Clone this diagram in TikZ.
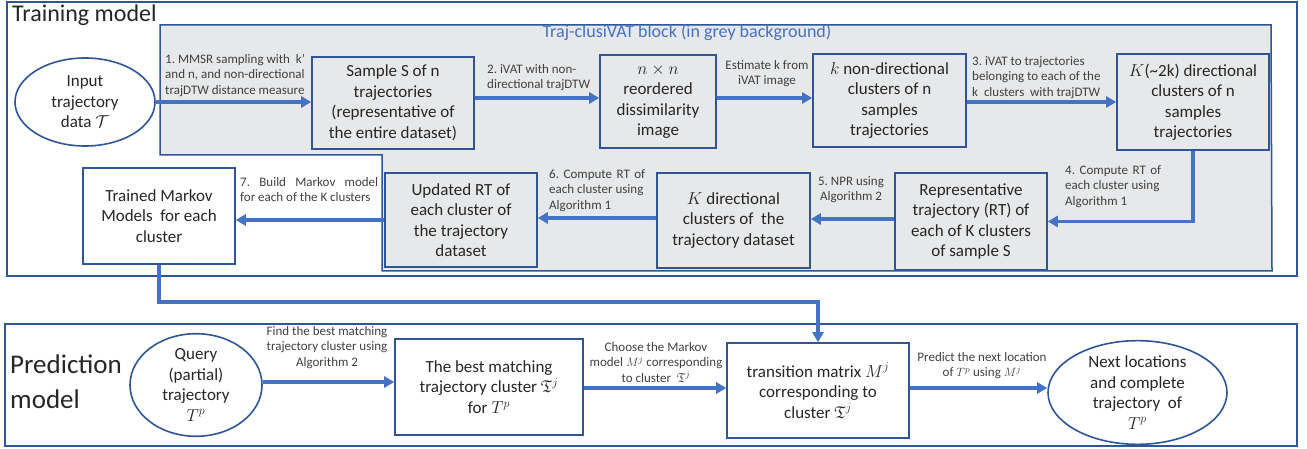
\documentclass[tikz,border=0pt]{standalone}
\usepackage{amsmath,amssymb}
\usepackage{fontspec}
\setmainfont{Carlito}
\usetikzlibrary{arrows.meta,shapes.geometric,calc}
\definecolor{boxblue}{RGB}{47,85,151}
\definecolor{arrowblue}{RGB}{68,114,196}
\definecolor{greyfill}{RGB}{231,232,233}
\definecolor{textdark}{RGB}{38,38,38}
\definecolor{lblgrey}{RGB}{64,64,64}
\frenchspacing
\newcommand{\boxfont}{\fontsize{17}{20.5}\selectfont}
\newcommand{\lblfont}{\fontsize{13}{15.5}\selectfont}
\newcommand{\jl}[2]{\makebox[#1][s]{#2}}
\begin{document}
\begin{tikzpicture}[x=1pt,y=-1pt,
  box/.style={draw=boxblue, line width=1.6pt, fill=greyfill, align=center, inner sep=0pt, font=\boxfont, text=textdark},
  wbox/.style={box, fill=white},
  oval/.style={ellipse, draw=boxblue, line width=1.6pt, fill=white, align=center, inner sep=0pt, font=\boxfont, text=textdark},
  arr/.style={draw=arrowblue, line width=3.5pt, -{Triangle[length=10pt,width=11pt]}},
  lbl/.style={font=\lblfont, text=lblgrey, inner sep=0pt},
  frame/.style={draw=boxblue, line width=2pt}]
\useasboundingbox (0,0) rectangle (1307,449);
% training frame
\draw[frame, fill=white] (7,2) rectangle (1297,276);
\node[anchor=north west, inner sep=0pt, font=\fontsize{24}{28}\selectfont, text=textdark] (ttitle) at (12,5) {Training model};
% grey block
\draw[draw=boxblue, line width=1.5pt, fill=greyfill] (160,25) -- (1271,25) -- (1272,271) -- (382,271) -- (382,155) -- (160,155) -- cycle;
\node[anchor=base, inner sep=0pt, font=\fontsize{18}{21}\selectfont, text=arrowblue] (gtitle) at (687,38) {Traj-clusiVAT block (in grey background)};
% nodes
\node[oval, minimum width=140pt, minimum height=88pt] (in) at (85,102) {Input\\trajectory\\data \(\mathcal{T}\)};
\node[box, minimum width=162pt, minimum height=92pt] (sample) at (393,103) {Sample S of n\\trajectories\\(representative of\\the entire dataset)};
\node[box, minimum width=116pt, minimum height=93pt] (nxn) at (658,101.5) {\(n\times n\)\\reordered\\dissimilarity\\image};
\node[box, minimum width=153pt, minimum height=93pt] (kc) at (889.5,100.5) {\(k\) non-directional\\clusters of n\\samples\\trajectories};
\node[box, minimum width=152pt, minimum height=96pt] (k2) at (1193,102) {\(K\)(\textasciitilde2k) directional\\clusters of n\\samples\\trajectories};
\node[box, minimum width=152pt, minimum height=97pt] (rep) at (971,221.5) {Representative\\trajectory (RT) of\\each of K clusters\\of sample S};
\node[box, minimum width=153pt, minimum height=95pt] (kd) at (733.5,220.5) {\(K\) directional\\clusters of\ \ the\\trajectory dataset};
\node[box, minimum width=152pt, minimum height=94pt] (upd) at (461,220) {Updated RT of\\each cluster of\\the trajectory\\dataset};
\node[wbox, minimum width=152pt, minimum height=96pt] (trained) at (159,216) {Trained Markov\\Models\ \ for each\\cluster};
% training arrows
\draw[arr] (in.east |- 0,102) -- (sample.west |- 0,102);
\draw[arr] (sample.east |- 0,98) -- (nxn.west |- 0,98);
\draw[arr] (nxn.east |- 0,98) -- (kc.west |- 0,98);
\draw[arr] (kc.east |- 0,102) -- (k2.west |- 0,102);
\draw[arr] (k2.south) |- (rep.east);
\draw[arr] (rep.west |- 0,219) -- (kd.east |- 0,219);
\draw[arr] (kd.west |- 0,218) -- (upd.east |- 0,218);
\draw[arr] (upd.west |- 0,220) -- (trained.east |- 0,220);
% training labels
\node[lbl, anchor=north west, align=left] (l1) at (165,54) {1. MMSR sampling with\ \ k’\\and n, and non-directional\\trajDTW distance measure};
\node[lbl, anchor=north west, align=left] (l2) at (487,64) {2. iVAT with non-\\directional trajDTW};
\node[lbl, anchor=north, align=center] (l3) at (767,60) {Estimate k from\\iVAT image};
\node[lbl, anchor=north west, align=left] (l4) at (972,56) {3. iVAT to trajectories\\belonging to each of the\\k\ \ clusters\ \ with trajDTW};
\node[lbl, anchor=north west, align=left] (l5) at (1065,165) {\jl{96pt}{4. Compute RT of}\\each cluster using\\Algorithm 1};
\node[lbl, anchor=north, align=center] (l6) at (851,176) {5. NPR using\\Algorithm 2};
\node[lbl, anchor=north west, align=left] (l7) at (549,169) {\jl{96pt}{6. Compute RT of}\\each cluster using\\Algorithm 1};
\node[lbl, anchor=north west, align=left] (l8) at (240,177) {\jl{138pt}{7. Build Markov model}\\for each of the K clusters};
% prediction frame
\draw[frame] (5,324) rectangle (1297,446);
\node[anchor=north west, align=left, inner sep=0pt, font=\fontsize{27}{35}\selectfont, text=textdark] (ptitle) at (10,355) {Prediction\\model};
\node[oval, minimum width=132pt, minimum height=94pt] (q) at (196,385) {Query\\(partial)\\trajectory\\\(T^p\)};
\node[wbox, minimum width=188pt, minimum height=96pt] (best) at (489,387) {The best matching\\trajectory cluster \(\mathfrak{T}^j\)\\for \(T^p\)};
\node[wbox, minimum width=182pt, minimum height=95pt] (trans) at (818,390.5) {transition matrix \(M^j\)\\corresponding to\\cluster \(\mathfrak{T}^j\)};
\node[oval, minimum width=179pt, minimum height=101pt] (next) at (1137.5,392.5) {Next locations\\and complete\\trajectory\ \ of\\\(T^p\)};
% prediction arrows
\draw[arr] (trained.south) -- (trained.south |- 0,302) -| (trans.north);
\draw[arr] (q.east |- 0,382) -- (best.west |- 0,382);
\draw[arr] (best.east |- 0,388) -- (trans.west |- 0,388);
\draw[arr] (trans.east |- 0,388) -- (next.west |- 0,388);
% prediction labels
\node[lbl, anchor=north, align=center] (l9) at (327,326) {Find the best matching\\trajectory cluster using\\Algorithm 2};
\node[lbl, anchor=north, align=center] (l10) at (656,342) {Choose the Markov\\model \(M^j\) corresponding\\to cluster\ \ \(\mathfrak{T}^j\)};
\node[lbl, anchor=north, align=center] (l11) at (982,352) {Predict the next location\\of \(T^p\) using \(M^j\)};
\end{tikzpicture}
\end{document}
